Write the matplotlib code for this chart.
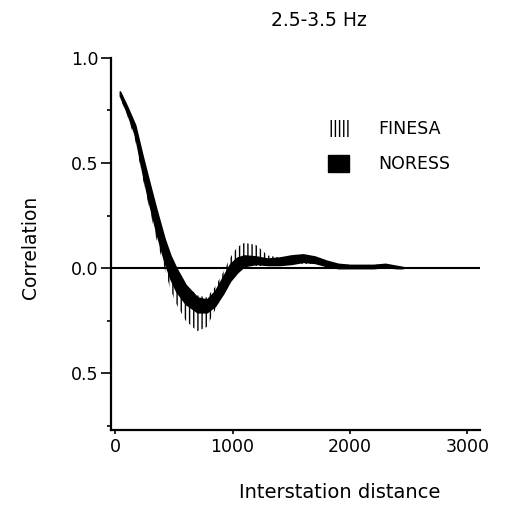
import numpy as np
import matplotlib
matplotlib.use("Agg")
import matplotlib.pyplot as plt
import matplotlib.patches as mpatches

# interstation distance and correlation bands
distance = [40, 100, 170, 230, 280, 350, 420, 470, 520, 600, 700, 780, 850, 920,
            980, 1040, 1100, 1200, 1300, 1400, 1500, 1600, 1700, 1800, 1900,
            2000, 2100, 2200, 2300, 2400, 2450]

noress_low = [0.82, 0.74, 0.63, 0.46, 0.33, 0.17, 0.03, -0.05, -0.11, -0.17, -0.21,
              -0.21, -0.18, -0.12, -0.06, -0.02, 0.01, 0.02, 0.015, 0.015, 0.02,
              0.03, 0.025, 0.01, 0.0, 0.0, 0.0, 0.0, 0.005, 0.0, 0.0]
noress_high = [0.84, 0.77, 0.68, 0.54, 0.43, 0.28, 0.14, 0.06, 0.0, -0.08, -0.14,
               -0.15, -0.11, -0.04, 0.02, 0.05, 0.06, 0.055, 0.045, 0.05, 0.06,
               0.065, 0.055, 0.035, 0.02, 0.015, 0.015, 0.015, 0.02, 0.01, 0.005]

finesa_low = [0.81, 0.73, 0.61, 0.44, 0.31, 0.14, 0.0, -0.10, -0.17, -0.25, -0.30,
              -0.28, -0.20, -0.12, -0.06, -0.01, 0.01, 0.01, 0.01, 0.01, 0.02,
              0.02, 0.02, 0.01, 0.0, 0.0, 0.0, 0.0, 0.0, 0.0, 0.0]
finesa_high = [0.84, 0.77, 0.68, 0.53, 0.42, 0.26, 0.13, 0.05, -0.01, -0.08, -0.13,
               -0.14, -0.09, -0.02, 0.05, 0.10, 0.12, 0.11, 0.06, 0.05, 0.05,
               0.06, 0.05, 0.03, 0.02, 0.015, 0.015, 0.015, 0.02, 0.01, 0.005]

xticks = [0, 1000, 2000, 3000]
yticks = [1.0, 0.5, 0.0, -0.5]
ytick_labels = ["1.0", "0.5", "0.0", "0.5"]
yminor = [0.75, 0.25, -0.25, -0.75]

fig = plt.figure(figsize=(5.12, 5.05), dpi=100)
ax = fig.add_axes([0.217, 0.1485, 0.721, 0.737])

# FINESA band: hatched
ax.fill_between(distance, finesa_low, finesa_high, facecolor="none",
                edgecolor="black", hatch="||||", linewidth=0)
# NORESS band: solid
ax.fill_between(distance, noress_low, noress_high, facecolor="black",
                edgecolor="black", linewidth=1.2)

ax.axhline(0, color="black", linewidth=1.5, zorder=3)

ax.set_xlim(-35, 3110)
ax.set_ylim(-0.77, 1.0)

for s in ["top", "right"]:
    ax.spines[s].set_visible(False)
ax.spines["left"].set_linewidth(1.6)
ax.spines["bottom"].set_linewidth(1.6)

ax.set_xticks(xticks)
ax.set_xticklabels([str(v) for v in xticks], fontsize=12.5)
ax.set_yticks(yticks)
ax.set_yticklabels(ytick_labels, fontsize=12.5)
ax.set_yticks(yminor, minor=True)
ax.tick_params(axis="y", which="major", direction="out", length=7, width=1.2, pad=2)
ax.tick_params(axis="y", which="minor", direction="out", length=3, width=1.2)
ax.tick_params(axis="x", which="major", direction="out", length=3, width=1.2, pad=3)

# legend placed to match the original layout
h1 = mpatches.Patch(facecolor="none", edgecolor="black", hatch="||||", linewidth=0)
h2 = mpatches.Patch(facecolor="black", edgecolor="black")
fig.legend([h1, h2], ["FINESA", "NORESS"], loc="upper left",
           bbox_to_anchor=(0.64, 0.762), frameon=False, fontsize=12.5,
           handlelength=1.2, handleheight=1.1, handletextpad=1.7,
           labelspacing=0.95, borderpad=0, borderaxespad=0)

fig.text(0.623, 0.96, "2.5-3.5 Hz", ha="center", va="center", fontsize=13.5)
fig.text(0.06, 0.51, "Correlation", ha="center", va="center", rotation=90,
         fontsize=13.5)
fig.text(0.664, 0.024, "Interstation distance", ha="center", va="center",
         fontsize=14)

fig.savefig("out.png", dpi=100)
